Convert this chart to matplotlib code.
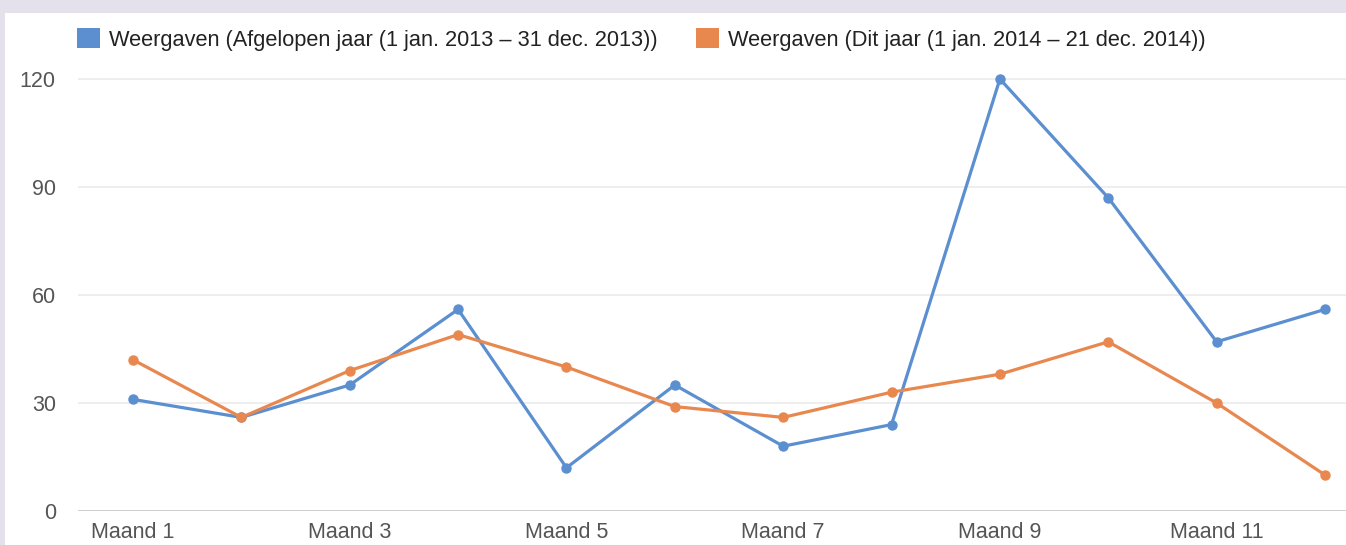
import matplotlib
matplotlib.use('Agg')
import matplotlib.pyplot as plt
from matplotlib.patches import Rectangle, Patch

maanden = list(range(1, 13))
tick_maanden = [1, 3, 5, 7, 9, 11]
tick_labels = ['Maand %d' % m for m in tick_maanden]
vorig_jaar = [31, 26, 35, 56, 12, 35, 18, 24, 120, 87, 47, 56]
dit_jaar = [42, 26, 39, 49, 40, 29, 26, 33, 38, 47, 30, 10]
labels = ['Weergaven (Afgelopen jaar (1 jan. 2013 \u2013 31 dec. 2013))',
          'Weergaven (Dit jaar (1 jan. 2014 \u2013 21 dec. 2014))']
colors = ['#5b8fd0', '#e8884f']
y_ticks = [0, 30, 60, 90, 120]

plt.rcParams['font.family'] = ['Liberation Sans', 'DejaVu Sans']

W, H = 1346, 545
fig = plt.figure(figsize=(W / 100, H / 100), dpi=100)
fig.patch.set_facecolor('#e4e0ec')
# white card inside the lavender frame
bg = fig.add_axes([5 / W, 0, 1 - 5 / W, 1 - 13 / H], zorder=-5)
bg.set_facecolor('white')
bg.axis('off')
bg.add_patch(Rectangle((0, 0), 1, 1, transform=bg.transAxes, facecolor='white', edgecolor='none'))

ax = fig.add_axes([78 / W, 34 / H, (W - 78) / W, 450 / H])
ax.set_facecolor('none')

for vals, c in zip([vorig_jaar, dit_jaar], colors):
    ax.plot(maanden, vals, color=c, lw=2.3, marker='o', ms=6.5, clip_on=False, zorder=3)

ax.set_xlim(1 - 55 / 108.36, 12 + 21 / 108.36)
ax.set_ylim(0, 125)
ax.set_yticks(y_ticks)
ax.set_xticks(tick_maanden)
ax.set_xticklabels(tick_labels)
ax.tick_params(axis='both', length=0, labelsize=15.5, labelcolor='#555555')
ax.tick_params(axis='x', pad=8)
ax.tick_params(axis='y', pad=16)
for s in ax.spines.values():
    s.set_visible(False)
ax.grid(axis='y', color='#ebebeb', lw=1.2)
ax.grid(axis='x', visible=False)
ax.axhline(0, color='#cccccc', lw=2, zorder=2)

handles = [Patch(facecolor=c, edgecolor='none') for c in colors]
fig.legend(handles, labels, loc='upper left', bbox_to_anchor=(77 / W, 1 - 28 / H),
           ncol=2, frameon=False, fontsize=15.7, handlelength=1.05, handleheight=1.05,
           handletextpad=0.4, columnspacing=1.8, borderpad=0, borderaxespad=0,
           labelcolor='#222222')

fig.savefig('out.png', dpi=100)
